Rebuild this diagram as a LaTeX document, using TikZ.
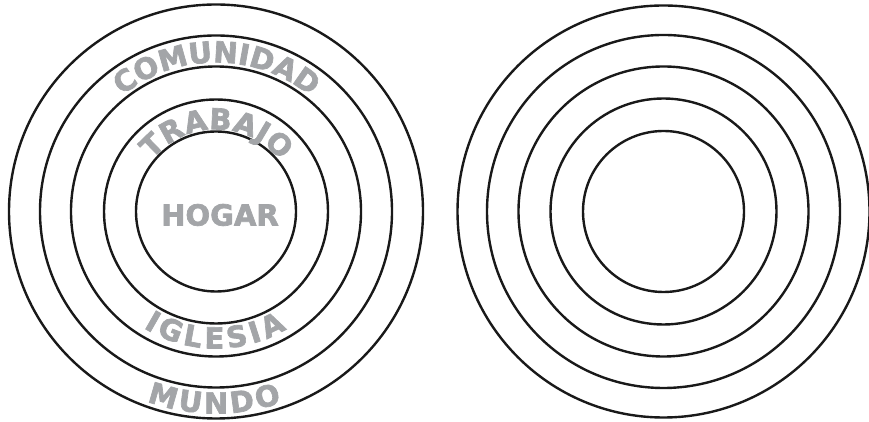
\documentclass[tikz,border=0pt]{standalone}
\usepackage{fontspec}
\setmainfont{DejaVu Sans}
\newfontfamily\ringfamily{DejaVu Sans Bold}[FakeBold=2.4]
\usepackage{xcolor}
\usetikzlibrary{decorations.text}
\definecolor{ringgray}{RGB}{163,165,168}
\newcommand{\ringfont}{\ringfamily\fontsize{29}{32}\selectfont}

\begin{document}
\begin{tikzpicture}[
  x=1pt, y=1pt,
  ring/.style={draw=black!90, line width=2.4pt},
  arclabel/.style={decorate, decoration={text along path, text={#1},
                   text align=fit to path, text color=ringgray}},
  centerlabel/.style={text=ringgray, font=\ringfont, inner sep=0pt}
]
\useasboundingbox (0,0) rectangle (869,422);
\coordinate (lc) at (216,210.5);
\coordinate (rc) at (663.5,210.5);

% left target with labels
\foreach \r in {207,176,145,112,80}
  \draw[ring] (lc) circle[radius=\r];
\node[centerlabel] (hogar) at (220,207) {HOGAR};
\path[arclabel={|\ringfont|TRABAJO}] (lc) ++(141:82) arc[start angle=141, end angle=38, radius=82];
\path[arclabel={|\ringfont|COMUNIDAD}] (lc) ++(129:149) arc[start angle=129, end angle=51, radius=149];
\path[arclabel={|\ringfont|IGLESIA}] (lc) ++(238:137) arc[start angle=238, end angle=301, radius=137];
\path[arclabel={|\ringfont|MUNDO}] (lc) ++(250:202) arc[start angle=250, end angle=289, radius=202];

% right target, empty
\foreach \r in {206,176.5,145,113,80.5}
  \draw[ring] (rc) circle[radius=\r];
\end{tikzpicture}
\end{document}
